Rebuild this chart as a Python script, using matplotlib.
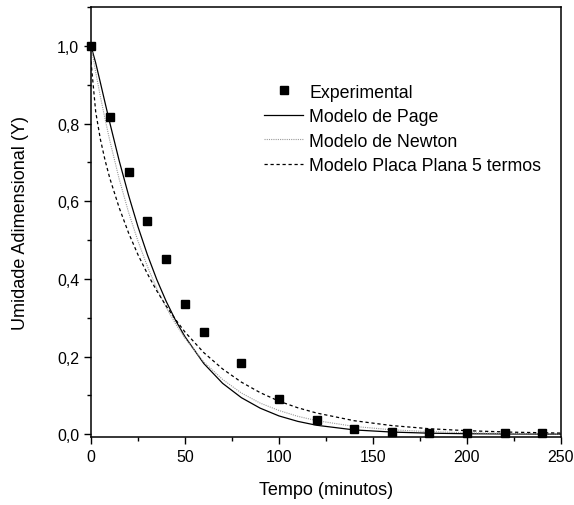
import numpy as np
import matplotlib
matplotlib.use("Agg")
import matplotlib.pyplot as plt
from matplotlib.ticker import MultipleLocator, FuncFormatter

plt.rcParams["font.family"] = ["Liberation Sans", "DejaVu Sans"]

# experimental drying points
t_exp = [0, 10, 20, 30, 40, 50, 60, 80, 100, 120, 140, 160, 180, 200, 220, 240]
y_exp = [1.0, 0.817, 0.676, 0.548, 0.451, 0.335, 0.262, 0.184, 0.090, 0.037,
         0.013, 0.006, 0.004, 0.004, 0.004, 0.004]

# model curves, sampled in time
t_mod = [0, 2.5, 5, 7.5, 10, 15, 20, 25, 30, 35, 40, 45, 50, 60, 70, 80, 90,
         100, 110, 120, 140, 160, 180, 200, 225, 250]
y_page = [1.0, 0.956, 0.905, 0.853, 0.802, 0.704, 0.615, 0.534, 0.462, 0.398,
          0.342, 0.293, 0.251, 0.182, 0.131, 0.094, 0.067, 0.047, 0.033, 0.023,
          0.011, 0.0055, 0.0026, 0.0012, 0.0005, 0.0002]
y_newton = [1.0, 0.932, 0.869, 0.811, 0.756, 0.657, 0.571, 0.497, 0.432, 0.375,
            0.326, 0.284, 0.247, 0.186, 0.141, 0.106, 0.080, 0.061, 0.046, 0.035,
            0.020, 0.0113, 0.0065, 0.0037, 0.0018, 0.0009]
y_placa = [0.960, 0.830, 0.759, 0.705, 0.659, 0.583, 0.518, 0.462, 0.413, 0.369,
           0.330, 0.295, 0.263, 0.210, 0.168, 0.134, 0.107, 0.085, 0.068, 0.0545,
           0.0347, 0.0222, 0.0141, 0.0090, 0.0051, 0.0029]

fig = plt.figure(figsize=(5.74, 5.06), dpi=100)
ax = fig.add_axes([91/574, 1 - 438.3/506, 470/574, 430.3/506])

ax.plot(t_exp, y_exp, "s", color="black", ms=6.2, ls="", label="Experimental",
        zorder=4, clip_on=False)
ax.plot(t_mod, y_page, "-", color="black", lw=0.9, label="Modelo de Page")
ax.plot(t_mod, y_newton, color="#9a9a9a", lw=0.8, ls=(0, (1, 1)),
        label="Modelo de Newton")
ax.plot(t_mod, y_placa, color="black", lw=0.9, ls=(0, (2.6, 2.2)),
        label="Modelo Placa Plana 5 termos")

ax.set_xlim(0, 250)
ax.set_ylim(-0.008, 1.1)
ax.xaxis.set_major_locator(MultipleLocator(50))
ax.xaxis.set_minor_locator(MultipleLocator(25))
ax.yaxis.set_major_locator(MultipleLocator(0.2))
ax.yaxis.set_minor_locator(MultipleLocator(0.1))
ax.yaxis.set_major_formatter(FuncFormatter(lambda v, p: f"{v:.1f}".replace(".", ",")))

for s in ax.spines.values():
    s.set_linewidth(1.1)
ax.tick_params(which="major", direction="out", length=5, width=1.0,
               labelsize=11.5, pad=3.5)
ax.tick_params(which="minor", direction="out", length=2.8, width=1.0)

ax.set_xlabel("Tempo (minutos)", fontsize=13, labelpad=12)
ax.set_ylabel("Umidade Adimensional (Y)", fontsize=13, labelpad=20)

ax.legend(loc="upper left", bbox_to_anchor=(0.368, 0.822), frameon=False,
          fontsize=12.8, borderpad=0, handlelength=2.2, handletextpad=0.35,
          labelspacing=0.42, borderaxespad=0)

fig.savefig("out.png", dpi=100)
